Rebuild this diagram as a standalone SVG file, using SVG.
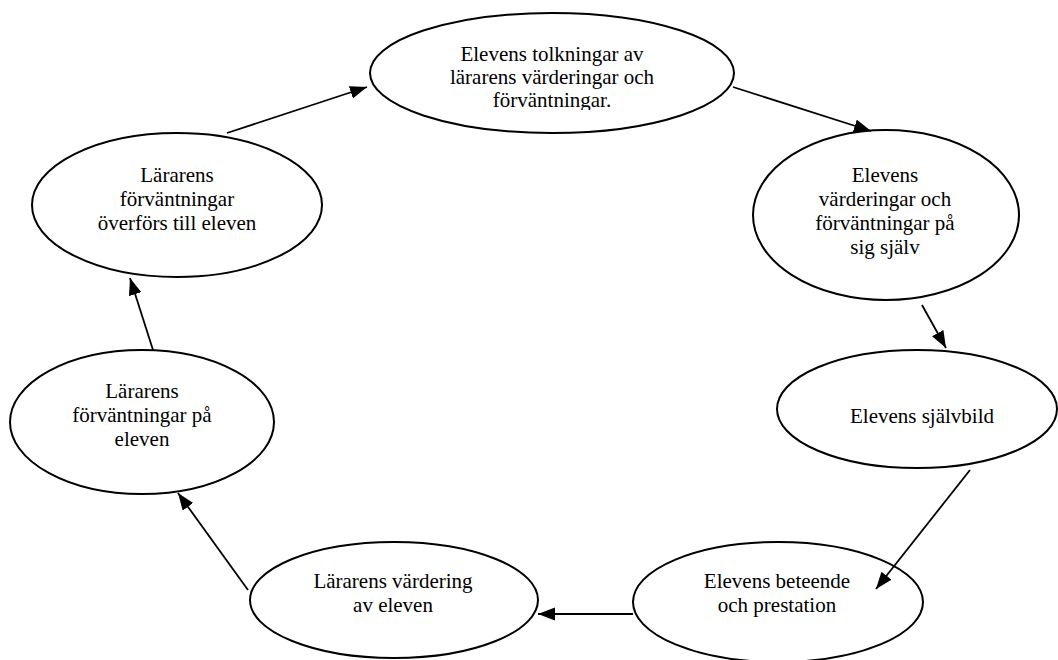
<svg xmlns="http://www.w3.org/2000/svg" width="1058" height="660" viewBox="0 0 1058 660">
<style>
.node ellipse{fill:#fff;stroke:#000;stroke-width:2}
.node text{font-family:"Liberation Serif","Times New Roman",serif;font-size:21px;fill:#000;text-anchor:middle}
.conn line{stroke:#000;stroke-width:1.8}
</style>
<defs>
<marker id="arr" markerUnits="userSpaceOnUse" markerWidth="18" markerHeight="14" refX="17" refY="6.5" orient="auto">
<path d="M0,0 L17,6.5 L0,13 z" fill="#000"/>
</marker>
<clipPath id="clipTop"><rect x="360" y="0" width="390" height="110"/></clipPath>
</defs>
<rect width="1058" height="660" fill="#fff"/>
<g id="n1" class="node">
<ellipse cx="552" cy="73" rx="182" ry="60"/>
<g clip-path="url(#clipTop)">
<text x="552" y="61">Elevens tolkningar av</text>
<text x="552" y="84">lärarens värderingar och</text>
<text x="552" y="107">förväntningar.</text>
</g>
</g>
<g id="n2" class="node">
<ellipse cx="886" cy="215" rx="133" ry="85"/>
<text x="885" y="182">Elevens</text>
<text x="885" y="206">värderingar och</text>
<text x="885" y="230">förväntningar på</text>
<text x="885" y="254">sig själv</text>
</g>
<g id="n3" class="node">
<ellipse cx="917" cy="409" rx="140" ry="59"/>
<text x="922" y="423">Elevens självbild</text>
</g>
<g id="n4" class="node">
<ellipse cx="778" cy="602" rx="145" ry="60"/>
<text x="777" y="588">Elevens beteende</text>
<text x="777" y="612">och prestation</text>
</g>
<g id="n5" class="node">
<ellipse cx="394" cy="600" rx="144" ry="58"/>
<text x="393" y="588">Lärarens värdering</text>
<text x="393" y="612">av eleven</text>
</g>
<g id="n6" class="node">
<ellipse cx="142" cy="422" rx="132" ry="72"/>
<text x="142" y="398">Lärarens</text>
<text x="142" y="422">förväntningar på</text>
<text x="142" y="446">eleven</text>
</g>
<g id="n7" class="node">
<ellipse cx="177" cy="205" rx="145" ry="72"/>
<text x="177" y="182">Lärarens</text>
<text x="177" y="206">förväntningar</text>
<text x="177" y="230">överförs till eleven</text>
</g>
<g class="conn">
<line x1="227" y1="133" x2="367" y2="87" marker-end="url(#arr)"/>
<line x1="733" y1="87" x2="871" y2="131" marker-end="url(#arr)"/>
<line x1="922" y1="305" x2="946" y2="348" marker-end="url(#arr)"/>
<line x1="970" y1="470" x2="876" y2="589" marker-end="url(#arr)"/>
<line x1="633" y1="614" x2="538" y2="614" marker-end="url(#arr)"/>
<line x1="248" y1="590" x2="178" y2="493" marker-end="url(#arr)"/>
<line x1="153" y1="350" x2="130" y2="278" marker-end="url(#arr)"/>
</g>
</svg>
